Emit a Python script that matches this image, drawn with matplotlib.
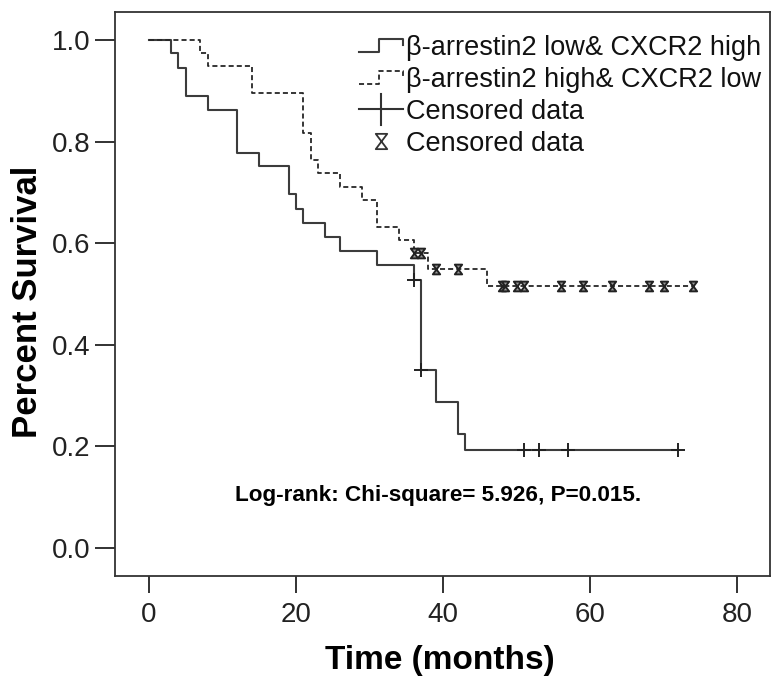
import matplotlib
matplotlib.use("Agg")
import matplotlib.pyplot as plt
from matplotlib.path import Path
from matplotlib.lines import Line2D
from matplotlib.legend_handler import HandlerBase

# ---------------- data ----------------
low_high_label = "β-arrestin2 low& CXCR2 high"
low_high_times = [0, 3, 4, 5, 8, 12, 15, 19, 20, 21, 24, 26, 31, 36, 37, 39, 42, 43, 72]
low_high_surv = [1.0, 0.974, 0.945, 0.890, 0.862, 0.778, 0.751, 0.697, 0.667, 0.640,
                 0.612, 0.585, 0.557, 0.528, 0.350, 0.288, 0.224, 0.193, 0.193]
low_high_cens_t = [36, 37, 51, 53, 57, 72]
low_high_cens_s = [0.528, 0.350, 0.193, 0.193, 0.193, 0.193]

high_low_label = "β-arrestin2 high& CXCR2 low"
high_low_times = [0, 7, 8, 14, 21, 22, 23, 26, 29, 31, 34, 36, 38, 46, 74]
high_low_surv = [1.0, 0.974, 0.949, 0.896, 0.816, 0.764, 0.738, 0.711, 0.685, 0.632,
                 0.606, 0.581, 0.549, 0.516, 0.516]
high_low_cens_t = [36, 37, 39, 42, 48, 48.4, 50, 51, 56, 59, 63, 68, 70, 74]
high_low_cens_s = [0.581, 0.581, 0.549, 0.549, 0.516, 0.516, 0.516, 0.516, 0.516,
                   0.516, 0.516, 0.516, 0.516, 0.516]

x_ticks = [0, 20, 40, 60, 80]
y_ticks = [0.0, 0.2, 0.4, 0.6, 0.8, 1.0]
y_tick_labels = ["0.0", "0.2", "0.4", "0.6", "0.8", "1.0"]
x_label = "Time (months)"
y_label = "Percent Survival"
censored_label = "Censored data"
stat_text = "Log-rank: Chi-square= 5.926, P=0.015."

# ---------------- styling ----------------
W, H = 780, 682
fig = plt.figure(figsize=(W / 100, H / 100), dpi=100)
fig.patch.set_facecolor("white")

left, right, bottom, top = 115, 770, 576, 12
ax = fig.add_axes([left / W, 1 - bottom / H, (right - left) / W, (bottom - top) / H])

solid_col = "#3c3c3c"
dash_col = "#262626"
dash_style = (0, (2.8, 1.7))

hourglass = Path([(-0.75, 1), (0.75, 1), (-0.75, -1), (0.75, -1), (-0.75, 1)],
                 [Path.MOVETO, Path.LINETO, Path.LINETO, Path.LINETO, Path.CLOSEPOLY])

ax.step(low_high_times, low_high_surv, where="post", color=solid_col, lw=1.5)
ax.step(high_low_times, high_low_surv, where="post", color=dash_col, lw=1.3,
        linestyle=dash_style)
ax.plot(low_high_cens_t, low_high_cens_s, linestyle="none", marker="+",
        markersize=10, markeredgewidth=1.4, color="#222222")
ax.plot(high_low_cens_t, high_low_cens_s, linestyle="none", marker=hourglass,
        markersize=7, markeredgewidth=1.4, markerfacecolor="#999999",
        markeredgecolor="#222222")

# scale: x 0 -> px 149, 80 -> px 737 ; y 1.0 -> px 40, 0.0 -> px 548
px_per_x = (737 - 149) / 80
px_per_y = 548 - 40
ax.set_xlim((left - 149) / px_per_x, (right - 149) / px_per_x)
ax.set_ylim((548 - bottom) / px_per_y, (548 - top) / px_per_y)

ax.set_xticks(x_ticks)
ax.set_yticks(y_ticks)
ax.set_yticklabels(y_tick_labels)
for lab in ax.get_xticklabels() + ax.get_yticklabels():
    lab.set_fontfamily("Liberation Sans")
    lab.set_fontsize(20)
    lab.set_color("#111111")
ax.tick_params(axis="y", direction="out", length=14.5, width=1.3, pad=3, colors="#222222")
ax.tick_params(axis="x", direction="out", length=12.5, width=1.3, pad=6, colors="#222222")
for sp in ax.spines.values():
    sp.set_linewidth(1.3)
    sp.set_color("#333333")

fig.text(28 / W, 1 - 302 / H, y_label, rotation=90, ha="center", va="center",
         family="Liberation Sans", weight="bold", size=25)
fig.text(440 / W, 1 - 660 / H, x_label, ha="center", va="center",
         family="Liberation Sans", weight="bold", size=24)
fig.text(438 / W, 1 - 495 / H, stat_text, ha="center", va="center",
         family="Liberation Sans", weight="bold", size=16.2)


# ---------------- legend with custom glyphs ----------------
class GlyphHandler(HandlerBase):
    def __init__(self, kind):
        super().__init__()
        self.kind = kind

    def create_artists(self, legend, orig_handle, xdescent, ydescent, width, height,
                       fontsize, trans):
        x0, y0 = -xdescent, -ydescent
        arts = []
        if self.kind in ("solid", "dash"):
            xs = [x0, x0 + 0.45 * width, x0 + 0.45 * width, x0 + width, x0 + width]
            ys = [y0 + 0.15 * height, y0 + 0.15 * height, y0 + 0.85 * height,
                  y0 + 0.85 * height, y0 + 0.55 * height]
            ln = Line2D(xs, ys, color=solid_col if self.kind == "solid" else dash_col,
                        lw=1.5 if self.kind == "solid" else 1.3,
                        linestyle="-" if self.kind == "solid" else dash_style)
            arts.append(ln)
        elif self.kind == "plus":
            ym = y0 + 0.5 * height
            arts.append(Line2D([x0, x0 + width], [ym, ym], color="#333333", lw=1.5))
            arts.append(Line2D([x0 + 0.5 * width] * 2, [y0 - 0.3 * height, y0 + 1.3 * height],
                               color="#333333", lw=1.5))
        else:
            arts.append(Line2D([x0 + 0.5 * width], [y0 + 0.5 * height], linestyle="none",
                               marker=hourglass, markersize=11, markeredgewidth=1.3,
                               markerfacecolor="white", markeredgecolor="#333333"))
        for a in arts:
            a.set_transform(trans)
        return arts


h1, h2, h3, h4 = (Line2D([], []) for _ in range(4))
leg = ax.legend([h1, h2, h3, h4],
                [low_high_label, high_low_label, censored_label, censored_label],
                handler_map={h1: GlyphHandler("solid"), h2: GlyphHandler("dash"),
                             h3: GlyphHandler("plus"), h4: GlyphHandler("hour")},
                loc="upper left", bbox_to_anchor=(359 / W, 1 - 35 / H),
                bbox_transform=fig.transFigure, frameon=False,
                prop=dict(family="Liberation Sans", size=19.5),
                handlelength=1.62, handletextpad=0.13, labelspacing=0.22,
                borderpad=0, borderaxespad=0)
for t in leg.get_texts():
    t.set_color("#111111")

fig.savefig("out.png", dpi=100, facecolor="white")
